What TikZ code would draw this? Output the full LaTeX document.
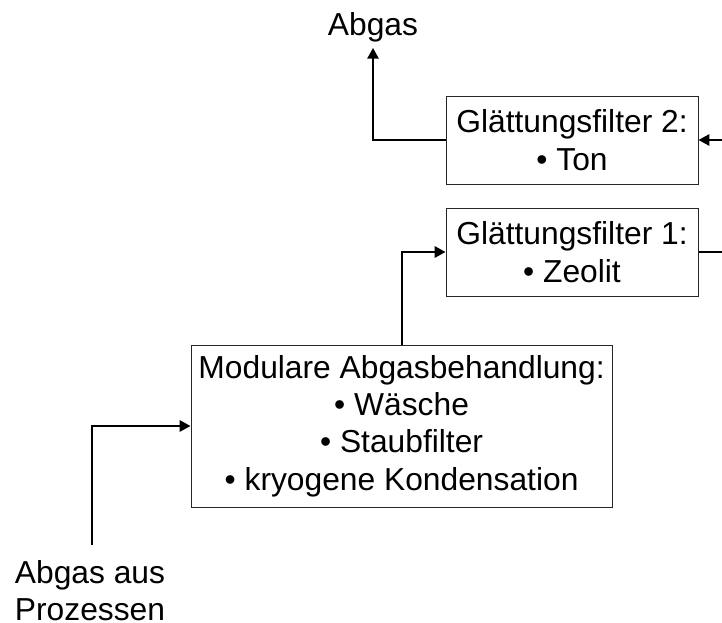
\documentclass[tikz,border=0pt]{standalone}
\usepackage{fontspec}
\setmainfont{Liberation Sans}
\usetikzlibrary{arrows.meta,positioning}

\begin{document}
\begin{tikzpicture}[>={Triangle[length=0.27cm,width=0.28cm]},
   font=\fontsize{22.6pt}{26.6pt}\selectfont,
   box/.style={draw=black!85, line width=0.7pt, align=center, inner sep=0pt},
   lbl/.style={align=center, inner sep=4pt},
   flow/.style={->, line width=1.5pt}]
\useasboundingbox (0,0) rectangle (18.05,15.55);
\clip (0,0) rectangle (18.05,15.55);
\node[box, minimum width=10.53cm, minimum height=4.05cm] (mod) at (10.04,4.90)
   {Modulare Abgasbehandlung:\\• Wäsche\\• Staubfilter\\• kryogene Kondensation};
\node[box, minimum width=6.3cm, minimum height=2.2cm] (gf1) at (14.3,9.25)
   {Glättungsfilter 1:\\• Zeolit};
\node[box, minimum width=6.3cm, minimum height=2.2cm] (gf2) at (14.3,12.05)
   {Glättungsfilter 2:\\• Ton};
\node[lbl] (out) at (9.325,14.87) {Abgas};
\node[lbl, inner sep=0pt] (in) at (2.25,0.78) {Abgas aus\\Prozessen};
\coordinate (src) at (2.3,1.925);
\coordinate (turn) at (18.3,10.6);
\draw[flow] (src) |- (mod.west);
\draw[flow] (mod.north) |- (gf1.west);
\draw[flow] (gf1.east) -| (turn) |- (gf2.east);
\draw[flow] (gf2.west) -| (out.south);
\end{tikzpicture}
\end{document}
